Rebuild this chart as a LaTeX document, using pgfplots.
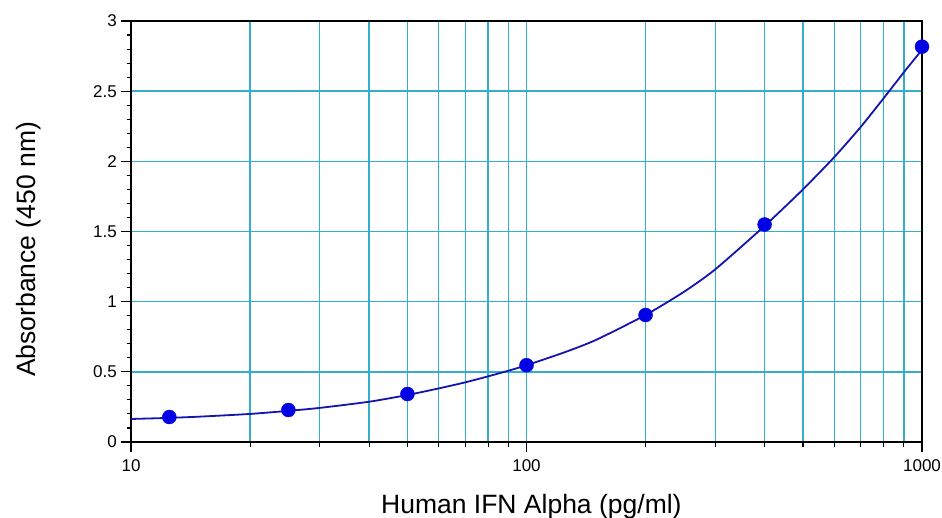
\documentclass[border=0pt]{standalone}
\usepackage{fontspec}
\setmainfont{Liberation Sans}
\usepackage{pgfplots}
\pgfplotsset{compat=1.18}
\definecolor{gridc}{RGB}{52,174,206}
\definecolor{fitc}{RGB}{20,20,175}
\definecolor{dotc}{RGB}{0,0,228}
\begin{document}
\begin{tikzpicture}
\useasboundingbox (0,0) rectangle (942pt,517pt);
\begin{axis}[
    at={(131pt,75pt)}, anchor=south west,
    scale only axis,
    width=791pt, height=421pt,
    xmode=log,
    xmin=10, xmax=1000,
    ymin=0, ymax=3,
    xtick={10,100,1000},
    xticklabels={10,100,1000},
    ytick={0,0.5,1,1.5,2,2.5,3},
    yticklabels={0,0.5,1,1.5,2,2.5,3},
    minor ytick={0.1,0.2,...,2.95},
    xtick pos=bottom, ytick pos=left,
    tick align=outside,
    major tick length=10pt,
    minor tick length=4.5pt,
    every tick/.style={black, line width=1.1pt},
    xmajorgrids, xminorgrids, ymajorgrids,
    major grid style={gridc, line width=1.4pt},
    minor grid style={gridc, line width=1.4pt},
    axis line style={line width=2.4pt, black},
    clip=false,
    /pgf/number format/assume math mode=true,
    ticklabel style={font=\fontsize{17}{20}\selectfont, inner sep=0pt},
    yticklabel style={anchor=east, xshift=-4pt},
    xticklabel style={anchor=north, yshift=-7.3pt},
    xlabel={Human IFN Alpha (pg/ml)},
    ylabel={Absorbance (450 nm)},
    label style={font=\fontsize{26.5}{30}\selectfont, inner sep=0pt},
    xlabel style={at={(axis description cs:0.3160,-0.16865)}, anchor=base west},
    ylabel style={at={(axis description cs:-0.12137,0.15439)}, anchor=base west},
]
% fitted curve
\addplot[fitc, line width=1.8pt, smooth, tension=0.4, no marks] coordinates {
    (10,0.164) (12.5,0.172) (15,0.181) (20,0.200) (25,0.222)
    (30,0.243) (40,0.287) (50,0.335) (60,0.382) (70,0.425)
    (80,0.468) (90,0.508) (100,0.547) (125,0.640) (150,0.728)
    (200,0.905) (250,1.070) (300,1.230) (400,1.540) (500,1.800)
    (600,2.030) (700,2.245) (800,2.450) (900,2.635) (1000,2.795)
};
% standards
\addplot[only marks, mark=*, mark size=7pt, mark options={fill=dotc, draw=dotc}] coordinates {
    (12.5,0.178) (25,0.228) (50,0.342) (100,0.547)
    (200,0.905) (400,1.550) (1000,2.817)
};
\end{axis}
\end{tikzpicture}
\end{document}
